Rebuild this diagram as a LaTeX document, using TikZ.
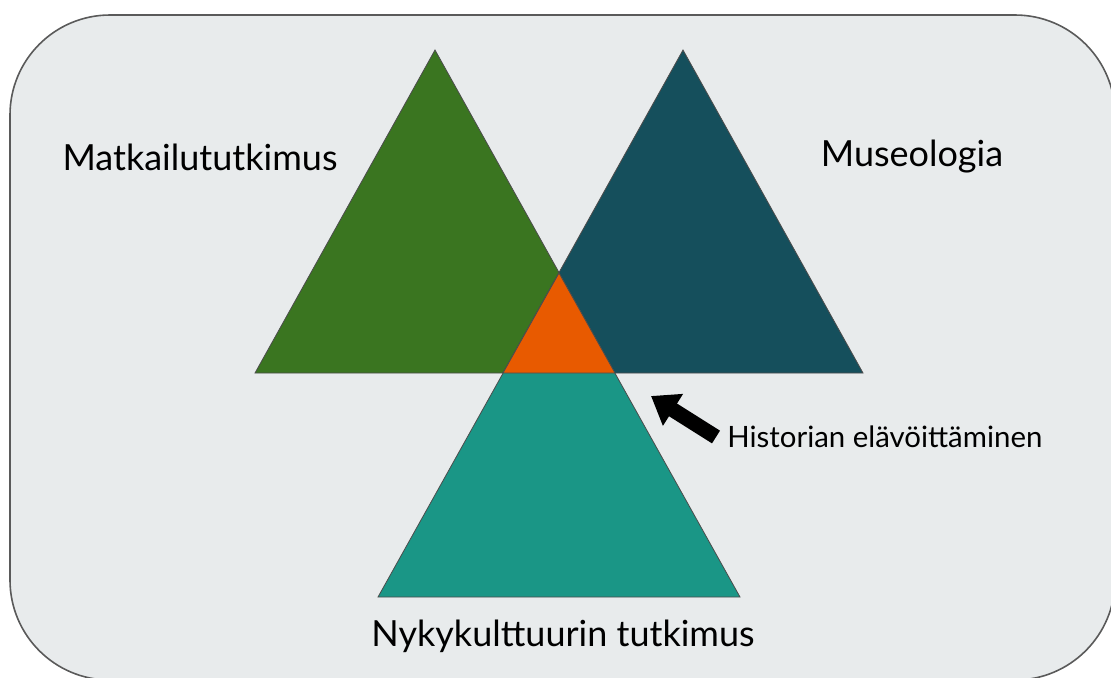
\documentclass[tikz,border=0pt]{standalone}
\usepackage{fontspec}
\setmainfont{Lato}
\usetikzlibrary{arrows.meta}

\definecolor{bgpanel}{HTML}{E8EBEC}
\definecolor{bgedge}{HTML}{5A5A5A}
\definecolor{trigreen}{HTML}{3A7520}
\definecolor{tridark}{HTML}{154F5C}
\definecolor{triteal}{HTML}{1A9686}
\definecolor{triorange}{HTML}{E85A00}

\tikzset{
  tri/.style={draw=black!70, line width=0.4pt, line join=miter},
  biglabel/.style={font=\fontsize{18}{21}\selectfont, inner sep=0pt},
  smalllabel/.style={font=\fontsize{14.7}{17}\selectfont, inner sep=0pt, anchor=west},
}

\begin{document}
\begin{tikzpicture}[x=0.5pt, y=-0.5pt]

        \useasboundingbox (0,0) rectangle (1111,677);

        % Background panel
        \begin{scope}
        \clip (0,0) rectangle (1111,677);
        \draw[bgedge, fill=bgpanel, line width=0.8pt, rounded corners=50pt]
              (10,15) rectangle (1115,680);
        \end{scope}

        % Corner points of the triangles
        \coordinate (gtop) at (435,50);
        \coordinate (gleft) at (255,373);
        \coordinate (gright) at (615,373);
        \coordinate (dtop) at (683,50);
        \coordinate (dleft) at (503,373);
        \coordinate (dright) at (863,373);
        \coordinate (ttop) at (559,273);
        \coordinate (tleft) at (378,597);
        \coordinate (tright) at (740,597);

        % Three big triangles
        \draw[tri, fill=trigreen] (gtop) -- (gleft) -- (gright) -- cycle;
        \draw[tri, fill=tridark] (dtop) -- (dleft) -- (dright) -- cycle;
        \draw[tri, fill=triteal] (ttop) -- (tleft) -- (tright) -- cycle;

        % Overlap in the middle
        \draw[tri, fill=triorange] (ttop) -- (dleft) -- (gright) -- cycle;

        % Labels
        \node[biglabel] (matka) at (200,157) {Matkailututkimus};
        \node[biglabel] (museo) at (912,157) {Museologia};
        \node[biglabel] (nyky) at (563,636) {Nykykulttuurin tutkimus};
        \node[smalllabel] (hist) at (727,437) {Historian elävöittäminen};

        % Arrow to the overlap
        \coordinate (arrtail) at (716,437);
        \coordinate (arrtip) at (651,396);
        \draw[line width=7.5pt, -{Triangle[length=13pt, width=18pt]}]
              (arrtail) -- (arrtip);

    \end{tikzpicture}
\end{document}
